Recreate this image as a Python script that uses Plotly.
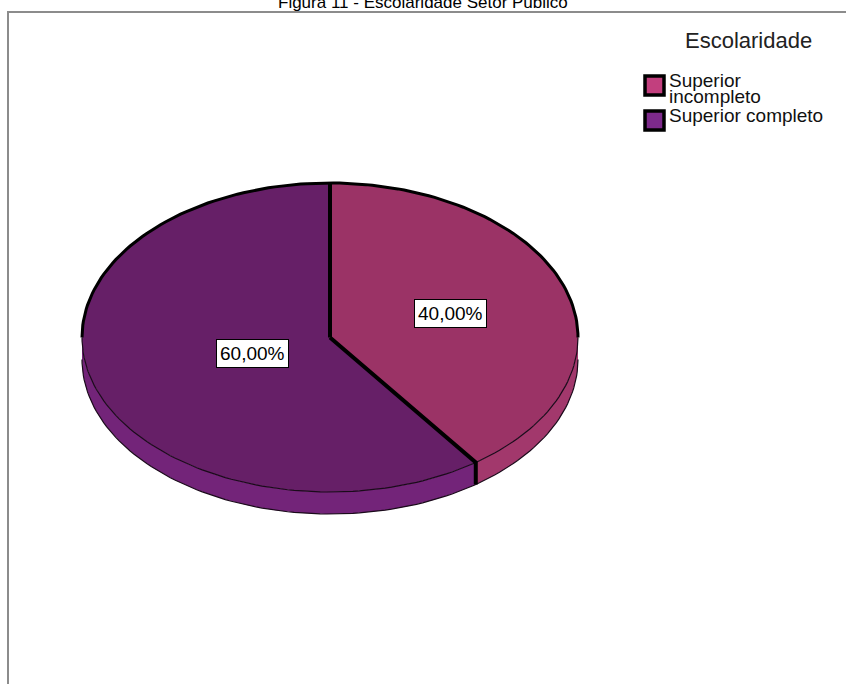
import numpy as np
import plotly.graph_objects as go

# ---- data ----
categories = ["Superior incompleto", "Superior completo"]
legend_lines = [["Superior", "incompleto"], ["Superior completo"]]
values = [40.0, 60.0]
label_texts = ["40,00%", "60,00%"]
chart_title = "Figura 11 - Escolaridade Setor Público"
legend_title = "Escolaridade"

# ---- style / layout ----
W, H = 846, 684
CX, CY = 330, 337.5
RX, RY = 248, 154.5
DEPTH = 22
top_colors = ["#9B3366", "#661F67"]
side_colors = ["#A2386C", "#732479"]
legend_colors = ["#C23F7E", "#7D2A8B"]
label_r = [0.51, 0.33]
FONT = "Liberation Sans, Arial, sans-serif"


def pts(a0, a1, dy=0.0, n=120):
    a = np.radians(np.linspace(a0, a1, n))
    return CX + RX * np.sin(a), CY - RY * np.cos(a) + dy


total = sum(values)
bounds = np.concatenate([[0.0], np.cumsum(values) / total * 360.0])

fig = go.Figure()

# side walls (visible front half: 90..270 deg clockwise from top)
for i in range(len(values)):
    lo, hi = max(bounds[i], 90.0), min(bounds[i + 1], 270.0)
    if lo < hi:
        xt, yt = pts(lo, hi)
        xb, yb = pts(hi, lo, DEPTH)
        fig.add_trace(go.Scatter(
            x=np.concatenate([xt, xb]), y=np.concatenate([yt, yb]),
            fill="toself", fillcolor=side_colors[i], mode="lines",
            line=dict(width=0, color=side_colors[i]), hoverinfo="skip", showlegend=False))

# top faces
for i in range(len(values)):
    xa, ya = pts(bounds[i], bounds[i + 1])
    fig.add_trace(go.Scatter(
        x=np.concatenate([[CX], xa, [CX]]), y=np.concatenate([[CY], ya, [CY]]),
        fill="toself", fillcolor=top_colors[i], mode="lines",
        line=dict(width=0, color=top_colors[i]), hoverinfo="skip",
        name=categories[i], showlegend=False))

# outlines
xa, ya = pts(270, 450)
fig.add_trace(go.Scatter(x=xa, y=ya, mode="lines", line=dict(color="black", width=3),
                         hoverinfo="skip", showlegend=False))
xa, ya = pts(90, 270)
fig.add_trace(go.Scatter(x=xa, y=ya, mode="lines", line=dict(color="#1a0a1a", width=1.2),
                         hoverinfo="skip", showlegend=False))
xa, ya = pts(90, 270, DEPTH)
fig.add_trace(go.Scatter(x=xa, y=ya, mode="lines", line=dict(color="#1a0a1a", width=1.2),
                         hoverinfo="skip", showlegend=False))

# slice dividers
for b in bounds[:-1]:
    bx, by = pts(b, b, n=1)
    xs, ys = [CX, bx[0]], [CY, by[0]]
    if 90 < b < 270:
        xs.append(bx[0]); ys.append(by[0] + DEPTH)
    fig.add_trace(go.Scatter(x=xs, y=ys, mode="lines", line=dict(color="black", width=4),
                             hoverinfo="skip", showlegend=False))

# value labels
for i in range(len(values)):
    mid = np.radians((bounds[i] + bounds[i + 1]) / 2)
    lx = CX + RX * label_r[i] * np.sin(mid)
    ly = CY - RY * label_r[i] * np.cos(mid)
    fig.add_annotation(x=lx, y=ly, text=label_texts[i], showarrow=False,
                       font=dict(family=FONT, size=19, color="black"),
                       bgcolor="white", bordercolor="black", borderwidth=1, borderpad=3)

# title
fig.add_annotation(x=W / 2, y=2, text=chart_title, showarrow=False,
                   font=dict(family=FONT, size=17, color="black"), yanchor="middle")

# legend (manual)
fig.add_annotation(x=748, y=40, text=legend_title, showarrow=False,
                   font=dict(family=FONT, size=22, color="#222"))
sw_top = [76, 111]
for i, lines in enumerate(legend_lines):
    fig.add_shape(type="rect", x0=645, x1=664, y0=sw_top[i], y1=sw_top[i] + 19,
                  fillcolor=legend_colors[i], line=dict(color="black", width=3.5))
    for j, t in enumerate(lines):
        fig.add_annotation(x=667, y=sw_top[i] + 4 + j * 16, text=t, showarrow=False,
                           xanchor="left", yanchor="middle",
                           font=dict(family=FONT, size=19, color="#111"))

# border
fig.add_shape(type="rect", x0=8, y0=12, x1=W + 10, y1=H + 10,
              line=dict(color="#8c8c8c", width=2))

fig.update_layout(
    width=W, height=H, margin=dict(l=0, r=0, t=0, b=0),
    paper_bgcolor="white", plot_bgcolor="white",
    xaxis=dict(range=[0, W], visible=False, fixedrange=True),
    yaxis=dict(range=[H, 0], visible=False, fixedrange=True),
    hovermode=False, showlegend=False,
)
fig.write_html("out.html", config={"displayModeBar": False},
               post_script="document.body.style.margin='0';document.body.style.overflow='hidden';")
